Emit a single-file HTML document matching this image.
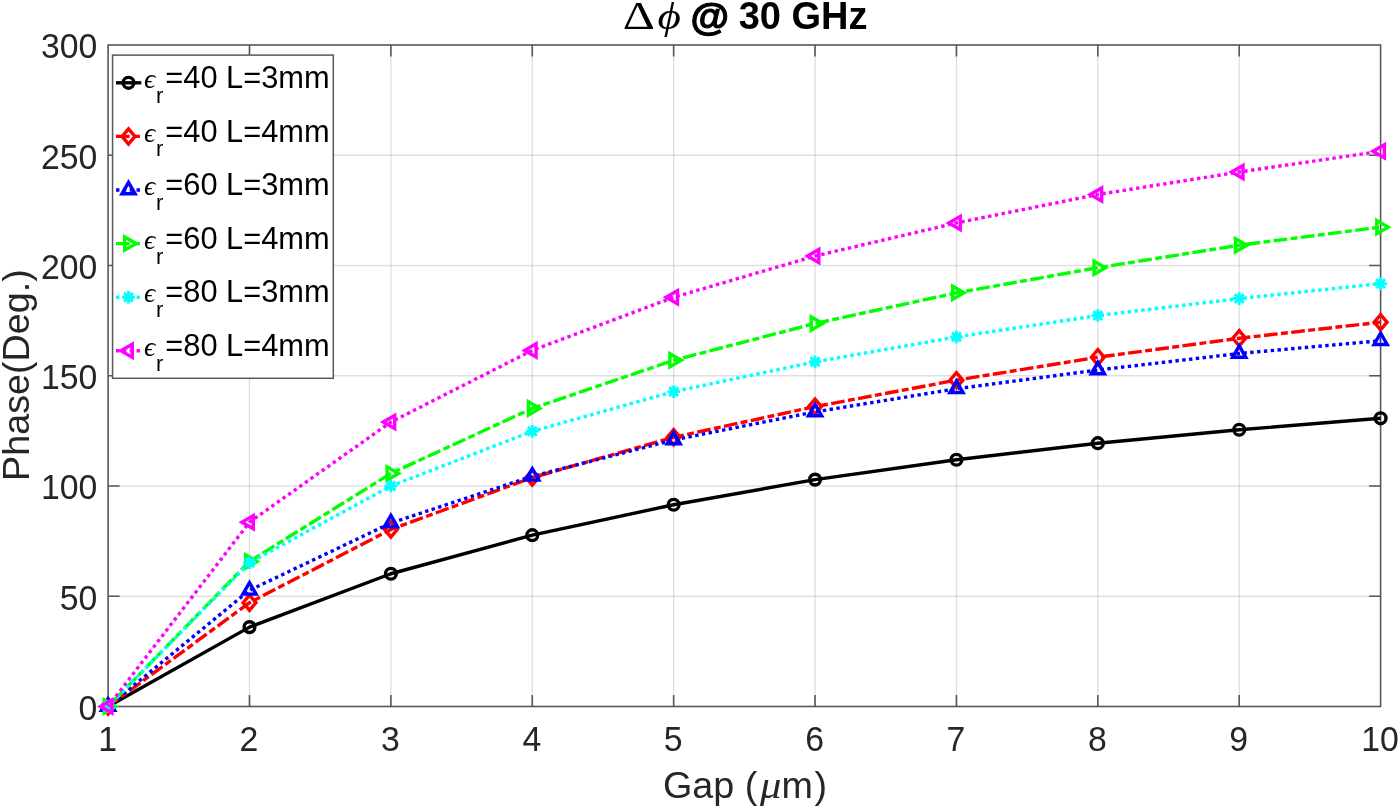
<!DOCTYPE html>
<html><head><meta charset="utf-8"><style>
html,body{margin:0;padding:0;background:#fff;}
svg{display:block;}
svg{will-change:transform;}
</style></head><body>
<svg width="1400" height="808" viewBox="0 0 1400 808">
<rect width="1400" height="808" fill="#fff"/>
<path d="M249.49,45.00V706.50M390.88,45.00V706.50M532.27,45.00V706.50M673.66,45.00V706.50M815.04,45.00V706.50M956.43,45.00V706.50M1097.82,45.00V706.50M1239.21,45.00V706.50" stroke="#262626" stroke-opacity="0.15" stroke-width="1.3" fill="none"/>
<path d="M108.10,596.25H1380.60M108.10,486.00H1380.60M108.10,375.75H1380.60M108.10,265.50H1380.60M108.10,155.25H1380.60" stroke="#262626" stroke-opacity="0.15" stroke-width="1.3" fill="none"/>
<path d="M249.49,706.50v-11.5M249.49,45.00v11.5M390.88,706.50v-11.5M390.88,45.00v11.5M532.27,706.50v-11.5M532.27,45.00v11.5M673.66,706.50v-11.5M673.66,45.00v11.5M815.04,706.50v-11.5M815.04,45.00v11.5M956.43,706.50v-11.5M956.43,45.00v11.5M1097.82,706.50v-11.5M1097.82,45.00v11.5M1239.21,706.50v-11.5M1239.21,45.00v11.5M108.10,596.25h11.5M1380.60,596.25h-11.5M108.10,486.00h11.5M1380.60,486.00h-11.5M108.10,375.75h11.5M1380.60,375.75h-11.5M108.10,265.50h11.5M1380.60,265.50h-11.5M108.10,155.25h11.5M1380.60,155.25h-11.5" stroke="#575757" stroke-width="1.6" fill="none"/>
<rect x="108.10" y="45.00" width="1272.50" height="661.50" stroke="#575757" stroke-width="1.6" fill="none"/>
<path d="M108.10,706.50L249.49,627.12L390.88,573.76L532.27,535.17L673.66,504.74L815.04,479.61L956.43,459.76L1097.82,443.22L1239.21,429.77L1380.60,418.31" stroke="#000000" stroke-width="3.4" fill="none" stroke-linejoin="round"/>
<circle cx="108.10" cy="706.50" r="5.4" fill="none" stroke="#000000" stroke-width="3.4"/>
<circle cx="249.49" cy="627.12" r="5.4" fill="none" stroke="#000000" stroke-width="3.4"/>
<circle cx="390.88" cy="573.76" r="5.4" fill="none" stroke="#000000" stroke-width="3.4"/>
<circle cx="532.27" cy="535.17" r="5.4" fill="none" stroke="#000000" stroke-width="3.4"/>
<circle cx="673.66" cy="504.74" r="5.4" fill="none" stroke="#000000" stroke-width="3.4"/>
<circle cx="815.04" cy="479.61" r="5.4" fill="none" stroke="#000000" stroke-width="3.4"/>
<circle cx="956.43" cy="459.76" r="5.4" fill="none" stroke="#000000" stroke-width="3.4"/>
<circle cx="1097.82" cy="443.22" r="5.4" fill="none" stroke="#000000" stroke-width="3.4"/>
<circle cx="1239.21" cy="429.77" r="5.4" fill="none" stroke="#000000" stroke-width="3.4"/>
<circle cx="1380.60" cy="418.31" r="5.4" fill="none" stroke="#000000" stroke-width="3.4"/>
<path d="M108.10,706.50L249.49,602.64L390.88,529.44L532.27,477.62L673.66,437.27L815.04,406.62L956.43,380.16L1097.82,357.23L1239.21,338.26L1380.60,322.17" stroke="#ff0000" stroke-width="3.4" fill="none" stroke-linejoin="round" stroke-dasharray="13.695 3.424 6.848 3.424" stroke-dashoffset="1.0"/>
<path d="M108.10,698.90L114.50,706.50L108.10,714.10L101.70,706.50Z" fill="none" stroke="#ff0000" stroke-width="3.4" stroke-linejoin="miter" stroke-miterlimit="10"/>
<path d="M249.49,595.04L255.89,602.64L249.49,610.24L243.09,602.64Z" fill="none" stroke="#ff0000" stroke-width="3.4" stroke-linejoin="miter" stroke-miterlimit="10"/>
<path d="M390.88,521.84L397.28,529.44L390.88,537.04L384.48,529.44Z" fill="none" stroke="#ff0000" stroke-width="3.4" stroke-linejoin="miter" stroke-miterlimit="10"/>
<path d="M532.27,470.02L538.67,477.62L532.27,485.22L525.87,477.62Z" fill="none" stroke="#ff0000" stroke-width="3.4" stroke-linejoin="miter" stroke-miterlimit="10"/>
<path d="M673.66,429.67L680.06,437.27L673.66,444.87L667.26,437.27Z" fill="none" stroke="#ff0000" stroke-width="3.4" stroke-linejoin="miter" stroke-miterlimit="10"/>
<path d="M815.04,399.02L821.44,406.62L815.04,414.22L808.64,406.62Z" fill="none" stroke="#ff0000" stroke-width="3.4" stroke-linejoin="miter" stroke-miterlimit="10"/>
<path d="M956.43,372.56L962.83,380.16L956.43,387.76L950.03,380.16Z" fill="none" stroke="#ff0000" stroke-width="3.4" stroke-linejoin="miter" stroke-miterlimit="10"/>
<path d="M1097.82,349.63L1104.22,357.23L1097.82,364.83L1091.42,357.23Z" fill="none" stroke="#ff0000" stroke-width="3.4" stroke-linejoin="miter" stroke-miterlimit="10"/>
<path d="M1239.21,330.66L1245.61,338.26L1239.21,345.87L1232.81,338.26Z" fill="none" stroke="#ff0000" stroke-width="3.4" stroke-linejoin="miter" stroke-miterlimit="10"/>
<path d="M1380.60,314.57L1387.00,322.17L1380.60,329.77L1374.20,322.17Z" fill="none" stroke="#ff0000" stroke-width="3.4" stroke-linejoin="miter" stroke-miterlimit="10"/>
<path d="M108.10,706.50L249.49,590.30L390.88,523.04L532.27,476.30L673.66,439.92L815.04,411.91L956.43,388.76L1097.82,370.02L1239.21,353.48L1380.60,340.69" stroke="#0000ff" stroke-width="3.4" fill="none" stroke-linejoin="round" stroke-dasharray="3.424 3.424" stroke-dashoffset="1.0"/>
<path d="M108.10,698.90L114.68,710.30L101.52,710.30Z" fill="none" stroke="#0000ff" stroke-width="3.4" stroke-linejoin="miter" stroke-miterlimit="10"/>
<path d="M249.49,582.70L256.07,594.10L242.91,594.10Z" fill="none" stroke="#0000ff" stroke-width="3.4" stroke-linejoin="miter" stroke-miterlimit="10"/>
<path d="M390.88,515.44L397.46,526.84L384.30,526.84Z" fill="none" stroke="#0000ff" stroke-width="3.4" stroke-linejoin="miter" stroke-miterlimit="10"/>
<path d="M532.27,468.70L538.85,480.10L525.68,480.10Z" fill="none" stroke="#0000ff" stroke-width="3.4" stroke-linejoin="miter" stroke-miterlimit="10"/>
<path d="M673.66,432.32L680.24,443.72L667.07,443.72Z" fill="none" stroke="#0000ff" stroke-width="3.4" stroke-linejoin="miter" stroke-miterlimit="10"/>
<path d="M815.04,404.31L821.63,415.71L808.46,415.71Z" fill="none" stroke="#0000ff" stroke-width="3.4" stroke-linejoin="miter" stroke-miterlimit="10"/>
<path d="M956.43,381.16L963.02,392.56L949.85,392.56Z" fill="none" stroke="#0000ff" stroke-width="3.4" stroke-linejoin="miter" stroke-miterlimit="10"/>
<path d="M1097.82,362.42L1104.40,373.82L1091.24,373.82Z" fill="none" stroke="#0000ff" stroke-width="3.4" stroke-linejoin="miter" stroke-miterlimit="10"/>
<path d="M1239.21,345.88L1245.79,357.28L1232.63,357.28Z" fill="none" stroke="#0000ff" stroke-width="3.4" stroke-linejoin="miter" stroke-miterlimit="10"/>
<path d="M1380.60,333.09L1387.18,344.49L1374.02,344.49Z" fill="none" stroke="#0000ff" stroke-width="3.4" stroke-linejoin="miter" stroke-miterlimit="10"/>
<path d="M108.10,706.50L249.49,561.41L390.88,473.43L532.27,408.38L673.66,360.31L815.04,323.49L956.43,292.84L1097.82,267.70L1239.21,245.21L1380.60,227.13" stroke="#00ff00" stroke-width="3.4" fill="none" stroke-linejoin="round" stroke-dasharray="13.695 3.424 6.848 3.424" stroke-dashoffset="1.0"/>
<path d="M115.70,706.50L104.30,713.08L104.30,699.92Z" fill="none" stroke="#00ff00" stroke-width="3.4" stroke-linejoin="miter" stroke-miterlimit="10"/>
<path d="M257.09,561.41L245.69,567.99L245.69,554.83Z" fill="none" stroke="#00ff00" stroke-width="3.4" stroke-linejoin="miter" stroke-miterlimit="10"/>
<path d="M398.48,473.43L387.08,480.01L387.08,466.85Z" fill="none" stroke="#00ff00" stroke-width="3.4" stroke-linejoin="miter" stroke-miterlimit="10"/>
<path d="M539.87,408.38L528.47,414.97L528.47,401.80Z" fill="none" stroke="#00ff00" stroke-width="3.4" stroke-linejoin="miter" stroke-miterlimit="10"/>
<path d="M681.26,360.31L669.86,366.90L669.86,353.73Z" fill="none" stroke="#00ff00" stroke-width="3.4" stroke-linejoin="miter" stroke-miterlimit="10"/>
<path d="M822.64,323.49L811.24,330.07L811.24,316.91Z" fill="none" stroke="#00ff00" stroke-width="3.4" stroke-linejoin="miter" stroke-miterlimit="10"/>
<path d="M964.03,292.84L952.63,299.42L952.63,286.26Z" fill="none" stroke="#00ff00" stroke-width="3.4" stroke-linejoin="miter" stroke-miterlimit="10"/>
<path d="M1105.42,267.70L1094.02,274.29L1094.02,261.12Z" fill="none" stroke="#00ff00" stroke-width="3.4" stroke-linejoin="miter" stroke-miterlimit="10"/>
<path d="M1246.81,245.21L1235.41,251.80L1235.41,238.63Z" fill="none" stroke="#00ff00" stroke-width="3.4" stroke-linejoin="miter" stroke-miterlimit="10"/>
<path d="M1388.20,227.13L1376.80,233.71L1376.80,220.55Z" fill="none" stroke="#00ff00" stroke-width="3.4" stroke-linejoin="miter" stroke-miterlimit="10"/>
<path d="M108.10,706.50L249.49,562.73L390.88,486.00L532.27,431.32L673.66,391.63L815.04,361.86L956.43,336.94L1097.82,315.55L1239.21,298.57L1380.60,283.58" stroke="#00ffff" stroke-width="3.4" fill="none" stroke-linejoin="round" stroke-dasharray="3.424 3.424" stroke-dashoffset="1.0"/>
<path d="M101.80,706.50L114.40,706.50M103.65,702.05L112.55,710.95M108.10,700.20L108.10,712.80M112.55,702.05L103.65,710.95" stroke="#00ffff" stroke-width="2.9" fill="none"/>
<path d="M243.19,562.73L255.79,562.73M245.03,558.28L253.94,567.19M249.49,556.43L249.49,569.03M253.94,558.28L245.03,567.19" stroke="#00ffff" stroke-width="2.9" fill="none"/>
<path d="M384.58,486.00L397.18,486.00M386.42,481.55L395.33,490.45M390.88,479.70L390.88,492.30M395.33,481.55L386.42,490.45" stroke="#00ffff" stroke-width="2.9" fill="none"/>
<path d="M525.97,431.32L538.57,431.32M527.81,426.86L536.72,435.77M532.27,425.02L532.27,437.62M536.72,426.86L527.81,435.77" stroke="#00ffff" stroke-width="2.9" fill="none"/>
<path d="M667.36,391.63L679.96,391.63M669.20,387.17L678.11,396.08M673.66,385.33L673.66,397.93M678.11,387.17L669.20,396.08" stroke="#00ffff" stroke-width="2.9" fill="none"/>
<path d="M808.74,361.86L821.34,361.86M810.59,357.40L819.50,366.31M815.04,355.56L815.04,368.16M819.50,357.40L810.59,366.31" stroke="#00ffff" stroke-width="2.9" fill="none"/>
<path d="M950.13,336.94L962.73,336.94M951.98,332.49L960.89,341.40M956.43,330.64L956.43,343.24M960.89,332.49L951.98,341.40" stroke="#00ffff" stroke-width="2.9" fill="none"/>
<path d="M1091.52,315.55L1104.12,315.55M1093.37,311.10L1102.28,320.01M1097.82,309.25L1097.82,321.85M1102.28,311.10L1093.37,320.01" stroke="#00ffff" stroke-width="2.9" fill="none"/>
<path d="M1232.91,298.57L1245.51,298.57M1234.76,294.12L1243.67,303.03M1239.21,292.27L1239.21,304.88M1243.67,294.12L1234.76,303.03" stroke="#00ffff" stroke-width="2.9" fill="none"/>
<path d="M1374.30,283.58L1386.90,283.58M1376.15,279.13L1385.05,288.04M1380.60,277.28L1380.60,289.88M1385.05,279.13L1376.15,288.04" stroke="#00ffff" stroke-width="2.9" fill="none"/>
<path d="M108.10,706.50L249.49,522.16L390.88,422.06L532.27,350.39L673.66,297.25L815.04,256.02L956.43,222.94L1097.82,194.50L1239.21,172.01L1380.60,151.28" stroke="#ff00ff" stroke-width="3.4" fill="none" stroke-linejoin="round" stroke-dasharray="3.424 3.424" stroke-dashoffset="1.0"/>
<path d="M100.50,706.50L111.90,699.92L111.90,713.08Z" fill="none" stroke="#ff00ff" stroke-width="3.4" stroke-linejoin="miter" stroke-miterlimit="10"/>
<path d="M241.89,522.16L253.29,515.58L253.29,528.74Z" fill="none" stroke="#ff00ff" stroke-width="3.4" stroke-linejoin="miter" stroke-miterlimit="10"/>
<path d="M383.28,422.06L394.68,415.47L394.68,428.64Z" fill="none" stroke="#ff00ff" stroke-width="3.4" stroke-linejoin="miter" stroke-miterlimit="10"/>
<path d="M524.67,350.39L536.07,343.81L536.07,356.97Z" fill="none" stroke="#ff00ff" stroke-width="3.4" stroke-linejoin="miter" stroke-miterlimit="10"/>
<path d="M666.06,297.25L677.46,290.67L677.46,303.83Z" fill="none" stroke="#ff00ff" stroke-width="3.4" stroke-linejoin="miter" stroke-miterlimit="10"/>
<path d="M807.44,256.02L818.84,249.44L818.84,262.60Z" fill="none" stroke="#ff00ff" stroke-width="3.4" stroke-linejoin="miter" stroke-miterlimit="10"/>
<path d="M948.83,222.94L960.23,216.36L960.23,229.53Z" fill="none" stroke="#ff00ff" stroke-width="3.4" stroke-linejoin="miter" stroke-miterlimit="10"/>
<path d="M1090.22,194.50L1101.62,187.92L1101.62,201.08Z" fill="none" stroke="#ff00ff" stroke-width="3.4" stroke-linejoin="miter" stroke-miterlimit="10"/>
<path d="M1231.61,172.01L1243.01,165.43L1243.01,178.59Z" fill="none" stroke="#ff00ff" stroke-width="3.4" stroke-linejoin="miter" stroke-miterlimit="10"/>
<path d="M1373.00,151.28L1384.40,144.70L1384.40,157.86Z" fill="none" stroke="#ff00ff" stroke-width="3.4" stroke-linejoin="miter" stroke-miterlimit="10"/>
<text transform="translate(107.60,751.1) scale(1,1.02)" font-size="33.8" text-anchor="middle" fill="#262626" font-family="Liberation Sans, sans-serif">1</text>
<text transform="translate(248.99,751.1) scale(1,1.02)" font-size="33.8" text-anchor="middle" fill="#262626" font-family="Liberation Sans, sans-serif">2</text>
<text transform="translate(390.38,751.1) scale(1,1.02)" font-size="33.8" text-anchor="middle" fill="#262626" font-family="Liberation Sans, sans-serif">3</text>
<text transform="translate(531.77,751.1) scale(1,1.02)" font-size="33.8" text-anchor="middle" fill="#262626" font-family="Liberation Sans, sans-serif">4</text>
<text transform="translate(673.16,751.1) scale(1,1.02)" font-size="33.8" text-anchor="middle" fill="#262626" font-family="Liberation Sans, sans-serif">5</text>
<text transform="translate(814.54,751.1) scale(1,1.02)" font-size="33.8" text-anchor="middle" fill="#262626" font-family="Liberation Sans, sans-serif">6</text>
<text transform="translate(955.93,751.1) scale(1,1.02)" font-size="33.8" text-anchor="middle" fill="#262626" font-family="Liberation Sans, sans-serif">7</text>
<text transform="translate(1097.32,751.1) scale(1,1.02)" font-size="33.8" text-anchor="middle" fill="#262626" font-family="Liberation Sans, sans-serif">8</text>
<text transform="translate(1238.71,751.1) scale(1,1.02)" font-size="33.8" text-anchor="middle" fill="#262626" font-family="Liberation Sans, sans-serif">9</text>
<text transform="translate(1380.10,751.1) scale(1,1.02)" font-size="33.8" text-anchor="middle" fill="#262626" font-family="Liberation Sans, sans-serif">10</text>
<text transform="translate(97.4,719.80) scale(1,1.025)" font-size="33.8" text-anchor="end" fill="#262626" font-family="Liberation Sans, sans-serif">0</text>
<text transform="translate(97.4,609.55) scale(1,1.025)" font-size="33.8" text-anchor="end" fill="#262626" font-family="Liberation Sans, sans-serif">50</text>
<text transform="translate(97.4,499.30) scale(1,1.025)" font-size="33.8" text-anchor="end" fill="#262626" font-family="Liberation Sans, sans-serif">100</text>
<text transform="translate(97.4,389.05) scale(1,1.025)" font-size="33.8" text-anchor="end" fill="#262626" font-family="Liberation Sans, sans-serif">150</text>
<text transform="translate(97.4,278.80) scale(1,1.025)" font-size="33.8" text-anchor="end" fill="#262626" font-family="Liberation Sans, sans-serif">200</text>
<text transform="translate(97.4,168.55) scale(1,1.025)" font-size="33.8" text-anchor="end" fill="#262626" font-family="Liberation Sans, sans-serif">250</text>
<text transform="translate(97.4,58.30) scale(1,1.025)" font-size="33.8" text-anchor="end" fill="#262626" font-family="Liberation Sans, sans-serif">300</text>
<text x="663.0" y="798.4" font-size="37.7" fill="#262626" font-family="Liberation Sans, sans-serif">Gap (</text>
<text transform="translate(759.9,798.4) scale(1.13,1)" font-size="37.7" fill="#262626" font-family="Liberation Serif, serif" font-style="italic">&#x3bc;</text>
<text x="781.6" y="798.4" font-size="37.7" fill="#262626" font-family="Liberation Sans, sans-serif">m<tspan dx="1.4">)</tspan></text>
<text transform="translate(28.6,375.1) rotate(-90)" x="0" y="0" font-size="37.7" text-anchor="middle" fill="#262626" font-family="Liberation Sans, sans-serif">Phase(Deg.)</text>
<text transform="translate(622.8,28.8) scale(1.22,1)" font-size="41" fill="#000" font-family="Liberation Serif, serif">&#x394;</text>
<text transform="translate(657.6,28.8) scale(1.21,1)" font-size="37.4" fill="#000" font-family="Liberation Serif, serif" font-style="italic">&#x3d5;</text>
<text x="690.6" y="30.0" font-size="39.5" font-weight="bold" fill="#000" stroke="#000" stroke-width="1.2" font-family="Liberation Sans, sans-serif">@</text>
<text x="738.7" y="28.8" font-size="38" font-weight="bold" fill="#000" font-family="Liberation Sans, sans-serif">30 GHz</text>
<rect x="112.55" y="55.1" width="220.75" height="323.20" fill="#fff" stroke="#575757" stroke-width="1.5"/>
<path d="M116.0,82.80H141.3" stroke="#000000" stroke-width="3.4" fill="none"/>
<circle cx="128.50" cy="82.80" r="5.4" fill="none" stroke="#000000" stroke-width="3.4"/>
<text x="144.1" y="88.00" font-size="30.8" fill="#000" font-family="Liberation Sans, sans-serif"><tspan font-family="Liberation Serif, serif" font-style="italic" font-size="28">&#x3f5;</tspan><tspan font-size="22" dy="14.8" dx="0.6">r</tspan><tspan dy="-14.8" dx="2.0">=40 L=3mm</tspan></text>
<path d="M116.0,136.40H141.3" stroke="#ff0000" stroke-width="3.4" fill="none" stroke-dasharray="13.695 3.424 6.848 3.424"/>
<path d="M128.50,128.80L134.90,136.40L128.50,144.00L122.10,136.40Z" fill="none" stroke="#ff0000" stroke-width="3.4" stroke-linejoin="miter" stroke-miterlimit="10"/>
<text x="144.1" y="141.60" font-size="30.8" fill="#000" font-family="Liberation Sans, sans-serif"><tspan font-family="Liberation Serif, serif" font-style="italic" font-size="28">&#x3f5;</tspan><tspan font-size="22" dy="14.8" dx="0.6">r</tspan><tspan dy="-14.8" dx="2.0">=40 L=4mm</tspan></text>
<path d="M116.0,190.00H141.3" stroke="#0000ff" stroke-width="3.4" fill="none" stroke-dasharray="3.424 3.424"/>
<path d="M128.50,182.40L135.08,193.80L121.92,193.80Z" fill="none" stroke="#0000ff" stroke-width="3.4" stroke-linejoin="miter" stroke-miterlimit="10"/>
<text x="144.1" y="195.20" font-size="30.8" fill="#000" font-family="Liberation Sans, sans-serif"><tspan font-family="Liberation Serif, serif" font-style="italic" font-size="28">&#x3f5;</tspan><tspan font-size="22" dy="14.8" dx="0.6">r</tspan><tspan dy="-14.8" dx="2.0">=60 L=3mm</tspan></text>
<path d="M116.0,243.60H141.3" stroke="#00ff00" stroke-width="3.4" fill="none" stroke-dasharray="13.695 3.424 6.848 3.424"/>
<path d="M136.10,243.60L124.70,250.18L124.70,237.02Z" fill="none" stroke="#00ff00" stroke-width="3.4" stroke-linejoin="miter" stroke-miterlimit="10"/>
<text x="144.1" y="248.80" font-size="30.8" fill="#000" font-family="Liberation Sans, sans-serif"><tspan font-family="Liberation Serif, serif" font-style="italic" font-size="28">&#x3f5;</tspan><tspan font-size="22" dy="14.8" dx="0.6">r</tspan><tspan dy="-14.8" dx="2.0">=60 L=4mm</tspan></text>
<path d="M116.0,297.20H141.3" stroke="#00ffff" stroke-width="3.4" fill="none" stroke-dasharray="3.424 3.424"/>
<path d="M122.20,297.20L134.80,297.20M124.05,292.75L132.95,301.65M128.50,290.90L128.50,303.50M132.95,292.75L124.05,301.65" stroke="#00ffff" stroke-width="2.9" fill="none"/>
<text x="144.1" y="302.40" font-size="30.8" fill="#000" font-family="Liberation Sans, sans-serif"><tspan font-family="Liberation Serif, serif" font-style="italic" font-size="28">&#x3f5;</tspan><tspan font-size="22" dy="14.8" dx="0.6">r</tspan><tspan dy="-14.8" dx="2.0">=80 L=3mm</tspan></text>
<path d="M116.0,350.80H141.3" stroke="#ff00ff" stroke-width="3.4" fill="none" stroke-dasharray="3.424 3.424"/>
<path d="M120.90,350.80L132.30,344.22L132.30,357.38Z" fill="none" stroke="#ff00ff" stroke-width="3.4" stroke-linejoin="miter" stroke-miterlimit="10"/>
<text x="144.1" y="356.00" font-size="30.8" fill="#000" font-family="Liberation Sans, sans-serif"><tspan font-family="Liberation Serif, serif" font-style="italic" font-size="28">&#x3f5;</tspan><tspan font-size="22" dy="14.8" dx="0.6">r</tspan><tspan dy="-14.8" dx="2.0">=80 L=4mm</tspan></text>
</svg>
</body></html>
